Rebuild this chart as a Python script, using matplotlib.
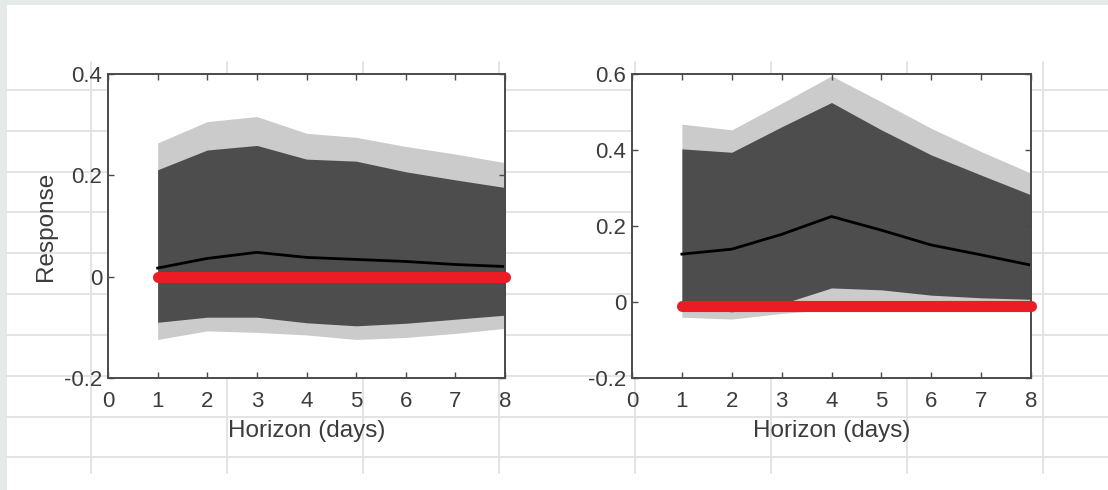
import numpy as np
import matplotlib
matplotlib.use('Agg')
import matplotlib.pyplot as plt

plt.rcParams['font.family'] = ['Liberation Sans', 'DejaVu Sans']

horizon = [1, 2, 3, 4, 5, 6, 7, 8]

# left panel
left_outer_hi = [0.264, 0.306, 0.316, 0.283, 0.275, 0.257, 0.242, 0.225]
left_inner_hi = [0.211, 0.250, 0.259, 0.232, 0.228, 0.207, 0.191, 0.176]
left_median = [0.017, 0.036, 0.048, 0.038, 0.034, 0.030, 0.024, 0.020]
left_inner_lo = [-0.090, -0.080, -0.080, -0.091, -0.097, -0.092, -0.084, -0.076]
left_outer_lo = [-0.124, -0.107, -0.110, -0.115, -0.124, -0.120, -0.112, -0.102]
left_zero = [0.0] * 8

# right panel
right_outer_hi = [0.468, 0.453, 0.523, 0.595, 0.527, 0.457, 0.396, 0.339]
right_inner_hi = [0.403, 0.394, 0.461, 0.525, 0.453, 0.387, 0.334, 0.282]
right_median = [0.126, 0.139, 0.178, 0.225, 0.189, 0.150, 0.124, 0.097]
right_inner_lo = [-0.008, -0.026, -0.005, 0.037, 0.032, 0.018, 0.011, 0.007]
right_outer_lo = [-0.040, -0.045, -0.030, -0.020, -0.018, -0.016, -0.014, -0.012]
right_zero = [-0.01] * 8

xticks = [0, 1, 2, 3, 4, 5, 6, 7, 8]
left_yticks = [-0.2, 0, 0.2, 0.4]
left_ylabels = ['-0.2', '0', '0.2', '0.4']
right_yticks = [-0.2, 0, 0.2, 0.4, 0.6]
right_ylabels = ['-0.2', '0', '0.2', '0.4', '0.6']

W, H = 1108, 490
fig = plt.figure(figsize=(W / 100, H / 100), dpi=100)
fig.patch.set_facecolor('white')

# spreadsheet background of the screenshot
bg = fig.add_axes([0, 0, 1, 1], zorder=-5)
bg.set_xlim(0, W)
bg.set_ylim(H, 0)
bg.axis('off')
grid_c = '#e2e2e2'
for y in [90, 131, 172, 212, 253, 294, 335, 376, 417, 457]:
    bg.plot([7, W], [y, y], color=grid_c, lw=1.3)
for x in [91, 227, 363, 499, 635, 771, 907, 1043]:
    bg.plot([x, x], [62, 473], color=grid_c, lw=1.3)
bg.fill_between([0, W], 0, 5, color='#e3eae8', lw=0)
bg.fill_between([0, 7], 0, H, color='#e3eae8', lw=0)

txt_c = '#3c3c3c'
spine_c = '#4a4a4a'


def panel(rect, hi2, hi1, med, lo1, lo2, zero, ylim, yt, ytl, ylabel=None):
    ax = fig.add_axes(rect)
    ax.set_facecolor('white')
    ax.fill_between(horizon, lo2, hi2, color='#cbcbcb', lw=0)
    ax.fill_between(horizon, lo1, hi1, color='#4d4d4d', lw=0)
    ax.plot(horizon, med, color='black', lw=2.0)
    ax.plot(horizon, zero, color='#ec1c24', lw=8, solid_capstyle='round',
            clip_on=False, zorder=5)
    ax.set_xlim(0, 8)
    ax.set_ylim(*ylim)
    ax.set_xticks(xticks)
    ax.set_xticklabels([str(t) for t in xticks])
    ax.set_yticks(yt)
    ax.set_yticklabels(ytl)
    ax.tick_params(direction='in', top=True, right=True, length=4, width=1,
                   color=spine_c, labelcolor=txt_c, labelsize=16)
    ax.tick_params(axis='x', pad=9)
    ax.tick_params(axis='y', pad=4)
    for s in ax.spines.values():
        s.set_color(spine_c)
        s.set_linewidth(1.4)
    ax.set_xlabel('Horizon (days)', fontsize=17.5, color=txt_c, labelpad=6)
    if ylabel:
        ax.set_ylabel(ylabel, fontsize=17.5, color=txt_c, labelpad=5)
    return ax


panel([108 / W, 1 - 378 / H, 397 / W, 304 / H],
      left_outer_hi, left_inner_hi, left_median, left_inner_lo, left_outer_lo,
      left_zero, (-0.2, 0.4), left_yticks, left_ylabels, 'Response')
panel([632 / W, 1 - 378 / H, 399 / W, 304 / H],
      right_outer_hi, right_inner_hi, right_median, right_inner_lo, right_outer_lo,
      right_zero, (-0.2, 0.6), right_yticks, right_ylabels)

plt.savefig('out.png', dpi=100)
